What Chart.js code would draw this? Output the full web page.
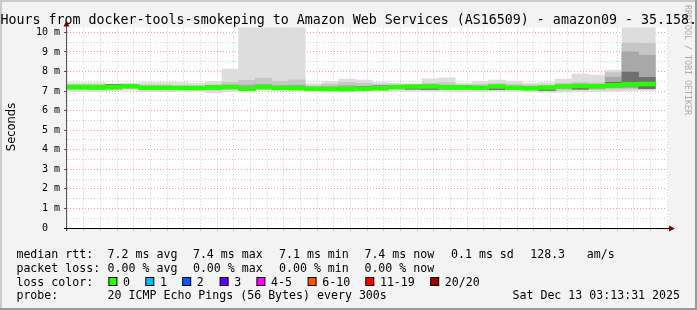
<!DOCTYPE html>
<html>
<head>
<meta charset="utf-8">
<title>SmokePing - amazon09</title>
<script src="https://cdn.jsdelivr.net/npm/chart.js@4/dist/chart.umd.min.js"></script>
<style>
  html, body { margin: 0; padding: 0; background: #f3f3f3; }
  canvas { display: block; }
</style>
</head>
<body>
<canvas id="chart" width="697" height="310"></canvas>
<script>
// 5 minute steps (start of each step), 20 pings per step
const stepStarts = [
  '00:10', '00:15', '00:20', '00:25', '00:30', '00:35', '00:40', '00:45', '00:50', '00:55',
  '01:00', '01:05', '01:10', '01:15', '01:20', '01:25', '01:30', '01:35', '01:40', '01:45',
  '01:50', '01:55', '02:00', '02:05', '02:10', '02:15', '02:20', '02:25', '02:30', '02:35',
  '02:40', '02:45', '02:50', '02:55', '03:00', '03:05',
];

// median rtt, ms
const medianRtt = [
  7.20, 7.20, 7.19, 7.20, 7.25, 7.17, 7.17, 7.16, 7.16, 7.19,
  7.21, 7.12, 7.20, 7.16, 7.15, 7.12, 7.11, 7.10, 7.12, 7.14,
  7.21, 7.23, 7.23, 7.19, 7.19, 7.17, 7.23, 7.17, 7.14, 7.18,
  7.23, 7.26, 7.24, 7.29, 7.35, 7.36,
];

// smoke: slowest / fastest ping
const pingMax = [
  7.42, 7.42, 7.43, 7.37, 7.39, 7.44, 7.43, 7.43, 7.39, 7.48,
  8.12, 10.6, 10.6, 10.6, 10.6, 7.37, 7.48, 7.61, 7.56, 7.45,
  7.40, 7.37, 7.62, 7.68, 7.39, 7.48, 7.56, 7.51, 7.39, 7.43,
  7.61, 7.87, 7.82, 8.07, 10.6, 10.6,
];
const pingMin = [
  6.99, 6.99, 6.98, 7.02, 7.05, 6.98, 6.97, 6.99, 7.01, 6.92,
  6.98, 7.00, 7.06, 7.07, 7.06, 7.00, 6.98, 7.00, 6.99, 7.00,
  7.00, 7.00, 7.00, 7.00, 7.00, 6.99, 6.99, 7.00, 6.96, 6.93,
  6.95, 6.96, 6.97, 7.00, 7.03, 7.04,
];

// smoke: 3rd / 18th ping
const outerHi = [
  7.33, 7.33, 7.34, 7.35, 7.33, 7.30, 7.30, 7.28, 7.27, 7.32,
  7.45, 7.55, 7.66, 7.50, 7.58, 7.27, 7.35, 7.45, 7.40, 7.33,
  7.32, 7.30, 7.40, 7.42, 7.30, 7.34, 7.38, 7.35, 7.30, 7.30,
  7.40, 7.45, 7.42, 7.95, 9.45, 9.44,
];
const outerLo = [
  7.08, 7.08, 7.07, 7.08, 7.12, 7.06, 7.05, 7.08, 7.07, 7.03,
  7.07, 7.03, 7.10, 7.10, 7.09, 7.05, 7.04, 7.05, 7.03, 7.06,
  7.08, 7.08, 7.08, 7.07, 7.08, 7.06, 7.08, 7.07, 7.04, 7.02,
  7.05, 7.07, 7.07, 7.10, 7.10, 7.08,
];

// smoke: 6th / 15th ping
const midHi = [
  7.27, 7.27, 7.26, 7.33, 7.30, 7.24, 7.24, 7.23, 7.22, 7.26,
  7.30, 7.30, 7.35, 7.28, 7.30, 7.20, 7.22, 7.28, 7.24, 7.26,
  7.27, 7.28, 7.30, 7.27, 7.25, 7.24, 7.29, 7.24, 7.21, 7.24,
  7.30, 7.34, 7.31, 7.72, 9.00, 8.83,
];
const midLo = [
  7.12, 7.12, 7.11, 7.12, 7.17, 7.10, 7.10, 7.10, 7.10, 7.11,
  7.12, 7.04, 7.14, 7.12, 7.11, 7.08, 7.07, 7.06, 7.07, 7.10,
  7.13, 7.10, 7.08, 7.12, 7.12, 7.11, 7.07, 7.11, 7.09, 7.03,
  7.14, 7.10, 7.16, 7.18, 7.18, 7.12,
];

// smoke: 9th / 12th ping
const innerHi = [
  7.24, 7.24, 7.23, 7.34, 7.28, 7.21, 7.21, 7.20, 7.20, 7.23,
  7.25, 7.18, 7.24, 7.20, 7.19, 7.16, 7.15, 7.14, 7.23, 7.27,
  7.25, 7.26, 7.27, 7.23, 7.23, 7.21, 7.27, 7.21, 7.18, 7.22,
  7.27, 7.30, 7.28, 7.45, 7.97, 7.70,
];
const innerLo = [
  7.16, 7.16, 7.15, 7.16, 7.21, 7.13, 7.13, 7.12, 7.12, 7.15,
  7.17, 7.04, 7.16, 7.12, 7.11, 7.08, 7.07, 7.06, 7.08, 7.10,
  7.17, 7.10, 7.08, 7.15, 7.15, 7.13, 7.07, 7.13, 7.10, 7.03,
  7.19, 7.10, 7.20, 7.25, 7.25, 7.12,
];

const xTickLabels = ['00:20', '00:40', '01:00', '01:20', '01:40', '02:00', '02:20', '02:40', '03:00'];
const yTickLabels = ['0', '1 m', '2 m', '3 m', '4 m', '5 m', '6 m', '7 m', '8 m', '9 m', '10 m'];

const lossLabels = ['0', '1', '2', '3', '4-5', '6-10', '11-19', '20/20'];
const lossColors = ['#26ff00', '#00b8ff', '#0059ff', '#5e00ff', '#ff00ff', '#ff5500', '#ff0000', '#a10000'];

const viewStart = '00:13:31';
const viewEnd   = '03:13:31';
const STEP_MIN = 5;
const Y_MAX = 10.25;
const MEDIAN_HALF = 0.1;   // median drawn as a thin band, ms

const MONO = '"DejaVu Sans Mono", monospace';
const MAJOR = 'rgba(255,60,60,0.5)';
const MINOR = 'rgba(143,143,143,0.45)';

function toMin(t) {
  const p = t.split(':').map(Number);
  return p[0] * 60 + p[1] + (p[2] || 0) / 60;
}

function band(lo, hi) {
  return stepStarts.map((t, i) => ({ x: toMin(t) + STEP_MIN / 2, y: [lo[i], hi[i]] }));
}

const datasets = [
  { label: 'median', data: band(medianRtt.map((m) => m - MEDIAN_HALF), medianRtt.map((m) => m + MEDIAN_HALF)), backgroundColor: lossColors[0] },
  { label: 'inner',  data: band(innerLo, innerHi), backgroundColor: '#707070' },
  { label: 'mid',    data: band(midLo, midHi),     backgroundColor: '#a8a8a8' },
  { label: 'outer',  data: band(outerLo, outerHi), backgroundColor: '#c6c6c6' },
  { label: 'range',  data: band(pingMin, pingMax), backgroundColor: '#dddddd' },
].map((d) => Object.assign(d, {
  grouped: false, barPercentage: 1, categoryPercentage: 1, borderWidth: 0, clip: 0,
}));

const frame = {
  id: 'rrdFrame',
  beforeDraw(chart) {
    const { ctx, chartArea: a, width, height } = chart;
    ctx.save();
    ctx.fillStyle = '#f3f3f3';
    ctx.fillRect(0, 0, width, height);
    ctx.fillStyle = '#cbcbcb';
    ctx.fillRect(0, 0, width, 2);
    ctx.fillRect(0, 0, 2, height);
    ctx.fillStyle = '#999999';
    ctx.fillRect(0, height - 2, width, 2);
    ctx.fillRect(width - 2, 0, 2, height);
    ctx.fillStyle = '#ffffff';
    ctx.fillRect(a.left, a.top, a.right - a.left + 1, a.bottom - a.top);

    // watermark
    ctx.translate(687, 5);
    ctx.rotate(Math.PI / 2);
    ctx.font = '8.3px ' + MONO;
    ctx.fillStyle = '#ababab';
    ctx.textBaseline = 'middle';
    ctx.fillText('RRDTOOL / TOBI OETIKER', 0, 0);
    ctx.restore();
  },
  afterDraw(chart) {
    const { ctx, chartArea: a } = chart;
    ctx.save();

    // axes + arrows
    ctx.lineWidth = 1;
    ctx.strokeStyle = '#555';
    ctx.beginPath();
    ctx.moveTo(a.left - 0.5, a.bottom + 3);
    ctx.lineTo(a.left - 0.5, 23);
    ctx.stroke();
    ctx.strokeStyle = '#000';
    ctx.beginPath();
    ctx.moveTo(a.left - 3, a.bottom + 0.5);
    ctx.lineTo(a.right + 3, a.bottom + 0.5);
    ctx.stroke();
    ctx.fillStyle = '#7f0000';
    ctx.beginPath();
    ctx.moveTo(a.left - 0.5, 20.5);
    ctx.lineTo(a.left - 3.5, 26.5);
    ctx.lineTo(a.left + 2.5, 26.5);
    ctx.closePath();
    ctx.fill();
    ctx.beginPath();
    ctx.moveTo(a.right + 8, a.bottom + 0.5);
    ctx.lineTo(a.right + 2, a.bottom - 2.5);
    ctx.lineTo(a.right + 2, a.bottom + 3.5);
    ctx.closePath();
    ctx.fill();

    // title
    ctx.fillStyle = '#000';
    ctx.font = '13.3px ' + MONO;
    ctx.textBaseline = 'alphabetic';
    const title = '3 Hours from docker-tools-smokeping to Amazon Web Services (AS16509) - amazon09 - 35.158.';
    ctx.fillText(title, 0.5 - ctx.measureText('3 ').width, 23.5);

    // y axis title
    ctx.save();
    ctx.translate(15, 127);
    ctx.rotate(-Math.PI / 2);
    ctx.font = '11.5px "DejaVu Sans", sans-serif';
    ctx.textAlign = 'center';
    ctx.fillText('Seconds', 0, 0);
    ctx.restore();

    // legend
    ctx.font = '11.6px ' + MONO;
    const put = (s, x, y, align) => { ctx.textAlign = align || 'left'; ctx.fillText(s, x, y); };
    const L1 = 258, L2 = 271.8, L3 = 285.5, L4 = 299.3;
    put('median rtt:', 16.4, L1);
    put('7.2 ms avg', 107.6, L1);
    put('7.4 ms max', 192.9, L1);
    put('7.1 ms min', 279, L1);
    put('7.4 ms now', 364.4, L1);
    put('0.1 ms sd', 451, L1);
    put('128.3', 530.2, L1);
    put('am/s', 586.7, L1);

    put('packet loss:', 16.4, L2);
    put('0.00 % avg', 107.6, L2);
    put('0.00 % max', 192.9, L2);
    put('0.00 % min', 279, L2);
    put('0.00 % now', 364.4, L2);

    put('loss color:', 16.4, L3);
    const boxX = [108.4, 145.3, 182.2, 219.6, 256.4, 307.6, 365.3, 430.2];
    lossLabels.forEach((lab, i) => {
      ctx.fillStyle = lossColors[i];
      ctx.fillRect(boxX[i] + 0.5, L3 - 8, 8, 8);
      ctx.strokeStyle = '#000';
      ctx.strokeRect(boxX[i] + 0.5, L3 - 8, 8, 8);
      ctx.fillStyle = '#000';
      put(lab, boxX[i] + 14.6, L3);
    });

    put('probe:', 16.4, L4);
    put('20 ICMP Echo Pings (56 Bytes) every 300s', 107.6, L4);
    put('Sat Dec 13 03:13:31 2025', 680, L4, 'right');
    ctx.restore();
  },
};

new Chart(document.getElementById('chart'), {
  type: 'bar',
  data: { datasets },
  options: {
    responsive: false,
    animation: false,
    events: [],
    layout: { padding: { left: 10, right: 30, top: 27.5, bottom: 62 } },
    plugins: { legend: { display: false }, tooltip: { enabled: false } },
    scales: {
      x: {
        type: 'linear',
        min: toMin(viewStart),
        max: toMin(viewEnd),
        offset: false,
        z: 1,
        afterFit(scale) { scale.height = 20; },
        grid: {
          offset: false,
          lineWidth: 1,
          tickLength: 3,
          borderDash: [1, 2],
          color: (c) => (c.tick && c.tick.value % 20 === 0 ? MAJOR : MINOR),
          tickColor: (c) => (c.tick && c.tick.value % 20 === 0 ? MAJOR : MINOR),
        },
        border: { display: false, dash: [1, 2] },
        ticks: {
          stepSize: STEP_MIN,
          maxTicksLimit: 100,
          autoSkip: false,
          includeBounds: false,
          maxRotation: 0,
          minRotation: 0,
          padding: 0,
          color: '#000',
          font: { family: MONO, size: 10 },
          callback: (v) => xTickLabels.find((l) => toMin(l) === v) || '',
        },
      },
      y: {
        min: 0,
        max: Y_MAX,
        z: 1,
        afterFit(scale) { scale.width = 57; },
        grid: {
          lineWidth: 1,
          tickLength: 3,
          borderDash: [1, 2],
          color: (c) => (c.tick && Number.isInteger(c.tick.value) ? MAJOR : MINOR),
          tickColor: (c) => (c.tick && Number.isInteger(c.tick.value) ? '#555' : 'rgba(0,0,0,0)'),
        },
        border: { display: false, dash: [1, 2] },
        ticks: {
          stepSize: 0.5,
          maxTicksLimit: 100,
          autoSkip: false,
          includeBounds: false,
          padding: 4,
          color: '#000',
          font: { family: MONO, size: 10 },
          callback: (v) => {
            if (v === 0) return yTickLabels[0] + '  ';
            return Number.isInteger(v) ? yTickLabels[v] : '';
          },
        },
      },
    },
  },
  plugins: [frame],
});
</script>
</body>
</html>
